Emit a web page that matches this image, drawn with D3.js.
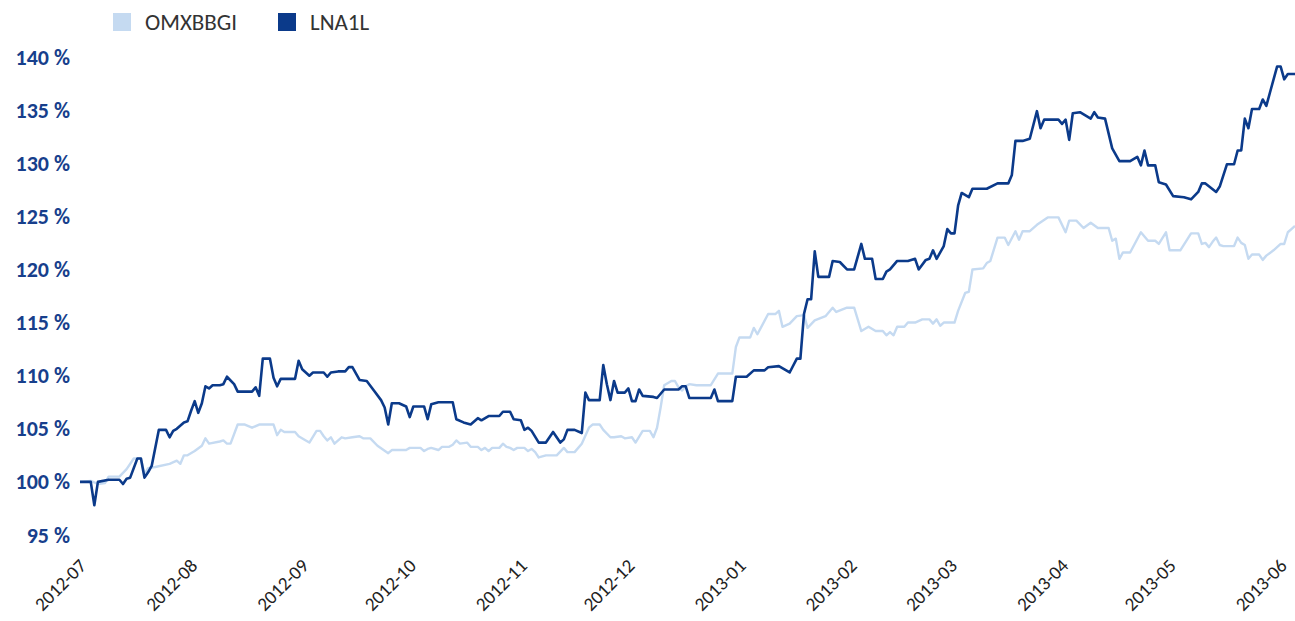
<!DOCTYPE html>
<html>
<head>
<meta charset="utf-8">
<script src="https://cdnjs.cloudflare.com/ajax/libs/d3/7.8.5/d3.min.js"></script>
<style>
    body { margin: 0; background: #fff; }
    #chart { width: 1295px; height: 621px; }
    .y-axis text { font-family: Carlito, Lato, sans-serif; font-size: 22px; font-weight: bold; fill: #173f8c; }
    .x-axis text { font-family: Carlito, Lato, sans-serif; font-size: 19px; fill: #222; }
    .legendText { font-family: Carlito, Lato, sans-serif; font-size: 23px; fill: #333; }
</style>
</head>
<body>
<div id="chart"></div>
<script>

// series names (legend order)
const seriesNames = ["OMXBBGI", "LNA1L"];
const seriesColours = ["#c5daf1", "#0b3a8a"];

// y ticks (percent) and x month ticks
const yTicks = [95, 100, 105, 110, 115, 120, 125, 130, 135, 140];
const monthTicks = ["2012-07", "2012-08", "2012-09", "2012-10", "2012-11", "2012-12",
    "2013-01", "2013-02", "2013-03", "2013-04", "2013-05", "2013-06"];

// OMXBBGI index, rebased to 100 %
const omxData = [
    ["2012-07-01",100.0],["2012-07-04",100.1],["2012-07-06",99.8],["2012-07-08",99.9],["2012-07-09",100.5],
    ["2012-07-12",100.5],["2012-07-14",101.2],["2012-07-16",102.2],["2012-07-18",102.2],["2012-07-19",100.7],
    ["2012-07-20",101.3],["2012-07-22",101.4],["2012-07-26",101.7],["2012-07-28",102.0],["2012-07-29",101.7],
    ["2012-07-30",102.5],["2012-07-31",102.5],["2012-08-02",102.9],["2012-08-04",103.4],["2012-08-05",104.1],
    ["2012-08-06",103.6],["2012-08-09",103.8],["2012-08-10",103.9],["2012-08-11",103.6],["2012-08-12",103.6],
    ["2012-08-14",105.4],["2012-08-16",105.4],["2012-08-18",105.1],["2012-08-20",105.4],["2012-08-24",105.4],
    ["2012-08-25",104.4],["2012-08-26",104.9],["2012-08-27",104.7],["2012-08-30",104.7],["2012-08-31",104.3],
    ["2012-09-02",103.9],["2012-09-03",103.7],["2012-09-05",104.8],["2012-09-06",104.8],["2012-09-07",104.3],
    ["2012-09-08",103.9],["2012-09-09",104.2],["2012-09-10",103.6],["2012-09-12",104.2],["2012-09-13",104.1],
    ["2012-09-15",104.2],["2012-09-17",104.3],["2012-09-18",104.1],["2012-09-20",104.1],["2012-09-22",103.4],
    ["2012-09-25",102.7],["2012-09-26",103.0],["2012-09-30",103.0],["2012-10-01",103.2],["2012-10-04",103.2],
    ["2012-10-05",102.9],["2012-10-06",103.1],["2012-10-07",103.2],["2012-10-09",103.0],["2012-10-10",103.3],
    ["2012-10-12",103.3],["2012-10-13",103.5],["2012-10-14",103.9],["2012-10-15",103.6],["2012-10-17",103.7],
    ["2012-10-18",103.3],["2012-10-20",103.3],["2012-10-21",103.0],["2012-10-22",103.2],["2012-10-23",102.9],
    ["2012-10-24",103.2],["2012-10-26",103.2],["2012-10-27",103.6],["2012-10-28",103.3],["2012-10-29",103.2],
    ["2012-10-30",103.0],["2012-10-31",103.2],["2012-11-02",103.2],["2012-11-03",102.9],["2012-11-04",103.1],
    ["2012-11-05",102.8],["2012-11-06",102.3],["2012-11-08",102.5],["2012-11-11",102.5],["2012-11-13",103.2],
    ["2012-11-14",102.8],["2012-11-16",102.8],["2012-11-18",103.6],["2012-11-20",105.1],["2012-11-21",105.4],
    ["2012-11-23",105.4],["2012-11-24",104.9],["2012-11-26",104.2],["2012-11-27",104.2],["2012-11-29",104.3],
    ["2012-11-30",104.1],["2012-12-02",104.2],["2012-12-03",103.7],["2012-12-05",104.8],["2012-12-07",104.8],
    ["2012-12-08",104.2],["2012-12-09",105.1],["2012-12-10",107.0],["2012-12-11",109.1],["2012-12-13",109.5],
    ["2012-12-14",109.5],["2012-12-15",108.9],["2012-12-16",108.6],["2012-12-17",109.0],["2012-12-18",109.2],
    ["2012-12-20",109.1],["2012-12-24",109.1],["2012-12-26",110.2],["2012-12-30",110.2],["2012-12-31",112.7],
    ["2013-01-01",113.6],["2013-01-04",113.6],["2013-01-05",114.5],["2013-01-06",113.9],["2013-01-09",115.8],
    ["2013-01-11",115.8],["2013-01-12",116.1],["2013-01-13",114.6],["2013-01-15",114.9],["2013-01-17",115.6],
    ["2013-01-19",115.7],["2013-01-20",114.5],["2013-01-22",115.2],["2013-01-25",115.6],["2013-01-27",116.4],
    ["2013-01-28",116.0],["2013-01-31",116.4],["2013-02-02",116.4],["2013-02-03",115.3],["2013-02-04",114.2],
    ["2013-02-06",114.6],["2013-02-08",114.2],["2013-02-10",114.2],["2013-02-11",113.8],["2013-02-12",114.1],
    ["2013-02-13",113.8],["2013-02-14",114.6],["2013-02-16",114.6],["2013-02-17",115.0],["2013-02-19",115.0],
    ["2013-02-21",115.3],["2013-02-23",115.3],["2013-02-24",114.9],["2013-02-25",115.3],["2013-02-26",114.7],
    ["2013-02-27",115.0],["2013-03-02",115.0],["2013-03-03",116.1],["2013-03-05",117.8],["2013-03-06",117.9],
    ["2013-03-07",120.0],["2013-03-10",120.1],["2013-03-11",120.6],["2013-03-12",120.8],["2013-03-14",123.0],
    ["2013-03-16",123.0],["2013-03-17",122.3],["2013-03-19",123.6],["2013-03-20",122.8],["2013-03-21",123.6],
    ["2013-03-23",123.6],["2013-03-25",124.2],["2013-03-28",124.9],["2013-03-31",124.9],["2013-04-02",123.5],
    ["2013-04-03",124.6],["2013-04-05",124.6],["2013-04-07",123.9],["2013-04-09",124.4],["2013-04-11",123.9],
    ["2013-04-14",123.9],["2013-04-15",122.7],["2013-04-16",122.9],["2013-04-17",121.0],["2013-04-18",121.6],
    ["2013-04-20",121.6],["2013-04-23",123.5],["2013-04-25",122.7],["2013-04-27",122.7],["2013-04-28",122.4],
    ["2013-04-30",123.5],["2013-05-01",121.8],["2013-05-04",121.8],["2013-05-07",123.4],["2013-05-09",123.4],
    ["2013-05-10",122.4],["2013-05-11",122.5],["2013-05-12",122.1],["2013-05-13",122.6],["2013-05-14",123.0],
    ["2013-05-15",122.3],["2013-05-16",122.2],["2013-05-19",122.2],["2013-05-20",123.0],["2013-05-21",122.5],
    ["2013-05-22",122.3],["2013-05-23",121.0],["2013-05-24",121.4],["2013-05-26",121.4],["2013-05-27",120.9],
    ["2013-05-28",121.3],["2013-05-30",121.8],["2013-06-01",122.4],["2013-06-02",122.4],["2013-06-03",123.5],
    ["2013-06-04",123.8],["2013-06-05",124.1]
];

// LNA1L share, rebased to 100 %
const lnaData = [
    ["2012-07-01",100.0],["2012-07-04",100.0],["2012-07-05",97.8],["2012-07-06",100.0],["2012-07-09",100.2],
    ["2012-07-12",100.2],["2012-07-13",99.8],["2012-07-14",100.3],["2012-07-15",100.4],["2012-07-17",102.2],
    ["2012-07-18",102.2],["2012-07-19",100.4],["2012-07-20",100.9],["2012-07-21",101.5],["2012-07-23",104.9],
    ["2012-07-25",104.9],["2012-07-26",104.2],["2012-07-27",104.8],["2012-07-28",105.0],["2012-07-30",105.6],
    ["2012-07-31",105.7],["2012-08-01",106.7],["2012-08-02",107.6],["2012-08-03",106.5],["2012-08-04",107.4],
    ["2012-08-05",109.0],["2012-08-06",108.8],["2012-08-07",109.1],["2012-08-09",109.1],["2012-08-10",109.2],
    ["2012-08-11",109.9],["2012-08-13",109.2],["2012-08-14",108.5],["2012-08-18",108.5],["2012-08-19",108.9],
    ["2012-08-20",108.1],["2012-08-21",111.6],["2012-08-23",111.6],["2012-08-24",109.8],["2012-08-25",109.0],
    ["2012-08-26",109.7],["2012-08-30",109.7],["2012-08-31",111.4],["2012-09-01",110.6],["2012-09-03",110.0],
    ["2012-09-04",110.3],["2012-09-07",110.3],["2012-09-08",109.9],["2012-09-09",110.3],["2012-09-11",110.4],
    ["2012-09-13",110.4],["2012-09-14",110.8],["2012-09-15",110.8],["2012-09-17",109.6],["2012-09-19",109.5],
    ["2012-09-21",108.6],["2012-09-23",107.7],["2012-09-24",107.0],["2012-09-25",105.4],["2012-09-26",107.4],
    ["2012-09-28",107.4],["2012-09-30",107.1],["2012-10-01",106.1],["2012-10-02",107.1],["2012-10-05",107.1],
    ["2012-10-06",105.9],["2012-10-07",107.3],["2012-10-09",107.5],["2012-10-13",107.5],["2012-10-14",105.9],
    ["2012-10-16",105.6],["2012-10-18",105.4],["2012-10-20",106.0],["2012-10-21",105.8],["2012-10-23",106.2],
    ["2012-10-26",106.2],["2012-10-27",106.6],["2012-10-29",106.6],["2012-10-30",105.9],["2012-11-01",105.8],
    ["2012-11-02",104.9],["2012-11-03",105.1],["2012-11-04",104.8],["2012-11-06",103.7],["2012-11-08",103.7],
    ["2012-11-10",104.7],["2012-11-12",103.7],["2012-11-13",104.0],["2012-11-14",104.9],["2012-11-16",104.9],
    ["2012-11-18",104.6],["2012-11-19",108.4],["2012-11-20",107.7],["2012-11-23",107.7],["2012-11-24",111.0],
    ["2012-11-25",109.2],["2012-11-26",107.7],["2012-11-27",109.5],["2012-11-28",108.4],["2012-11-30",108.4],
    ["2012-12-01",108.8],["2012-12-02",107.6],["2012-12-03",107.6],["2012-12-04",108.7],["2012-12-05",108.1],
    ["2012-12-08",108.0],["2012-12-09",107.9],["2012-12-11",108.7],["2012-12-15",108.7],["2012-12-16",109.0],
    ["2012-12-17",109.0],["2012-12-18",107.9],["2012-12-24",107.9],["2012-12-25",108.7],["2012-12-26",107.6],
    ["2012-12-30",107.6],["2012-12-31",109.9],["2013-01-03",109.9],["2013-01-05",110.5],["2013-01-08",110.5],
    ["2013-01-09",110.8],["2013-01-12",110.9],["2013-01-15",110.3],["2013-01-17",111.6],["2013-01-18",111.6],
    ["2013-01-19",115.8],["2013-01-20",117.2],["2013-01-21",117.2],["2013-01-22",121.7],["2013-01-23",119.3],
    ["2013-01-26",119.3],["2013-01-27",120.8],["2013-01-29",120.7],["2013-01-31",120.0],["2013-02-02",120.0],
    ["2013-02-03",121.2],["2013-02-04",122.4],["2013-02-05",121.0],["2013-02-07",121.0],["2013-02-08",119.1],
    ["2013-02-10",119.1],["2013-02-11",119.8],["2013-02-12",120.0],["2013-02-14",120.8],["2013-02-17",120.8],
    ["2013-02-19",121.0],["2013-02-20",120.0],["2013-02-22",120.9],["2013-02-23",121.0],["2013-02-24",121.8],
    ["2013-02-25",121.0],["2013-02-27",122.2],["2013-02-28",123.8],["2013-03-01",123.4],["2013-03-02",123.4],
    ["2013-03-03",126.0],["2013-03-04",127.2],["2013-03-06",126.8],["2013-03-07",127.6],["2013-03-11",127.6],
    ["2013-03-14",128.1],["2013-03-17",128.1],["2013-03-18",128.9],["2013-03-19",132.1],["2013-03-21",132.1],
    ["2013-03-23",132.3],["2013-03-25",134.9],["2013-03-26",133.3],["2013-03-27",134.1],["2013-03-31",134.1],
    ["2013-04-01",133.7],["2013-04-02",134.1],["2013-04-03",132.2],["2013-04-04",134.7],["2013-04-06",134.8],
    ["2013-04-09",134.2],["2013-04-10",134.8],["2013-04-11",134.3],["2013-04-13",134.2],["2013-04-15",131.4],
    ["2013-04-17",130.2],["2013-04-20",130.2],["2013-04-22",130.6],["2013-04-23",129.8],["2013-04-24",131.2],
    ["2013-04-25",129.8],["2013-04-27",129.8],["2013-04-28",128.2],["2013-04-30",128.0],["2013-05-02",126.9],
    ["2013-05-05",126.8],["2013-05-07",126.6],["2013-05-09",127.3],["2013-05-10",128.1],["2013-05-11",128.1],
    ["2013-05-14",127.3],["2013-05-15",127.8],["2013-05-17",129.9],["2013-05-19",129.9],["2013-05-20",131.2],
    ["2013-05-21",131.2],["2013-05-22",134.2],["2013-05-23",133.3],["2013-05-24",135.1],["2013-05-26",135.1],
    ["2013-05-27",136.0],["2013-05-28",135.4],["2013-05-31",139.1],["2013-06-01",139.1],["2013-06-02",137.9],
    ["2013-06-03",138.4],["2013-06-05",138.4]
];

class IndexLineChart{

    constructor (_element, _series){
        this.element = _element;
        this.series = _series;
        this.init();
    }

    init(){
        let dv = this;

        dv.margin = { top: 57, right: 0, bottom: 86, left: 80 };
        dv.width = 1295 - dv.margin.left - dv.margin.right;
        dv.height = 621 - dv.margin.top - dv.margin.bottom;

        const svg = d3.select(dv.element)
            .append("svg")
            .attr("width", dv.width + dv.margin.left + dv.margin.right)
            .attr("height", dv.height + dv.margin.top + dv.margin.bottom);

        dv.svg = svg;
        dv.g = svg.append("g")
            .attr("transform", "translate(" + dv.margin.left + "," + dv.margin.top + ")");

        dv.parseDate = d3.timeParse("%Y-%m-%d");
        dv.parseMonth = d3.timeParse("%Y-%m");

        let allDates = [];
        dv.series.forEach(s => { s.values.forEach(d => allDates.push(dv.parseDate(d[0]))); });

        dv.x = d3.scaleTime()
            .domain(d3.extent(allDates))
            .range([0, dv.width]);

        // 95 % sits at the bottom of the plot, 140 % at the top
        dv.y = d3.scaleLinear()
            .domain([d3.min(yTicks), d3.max(yTicks)])
            .range([dv.height, 0]);

        dv.update();
    }

    update(){
        let dv = this;

        // y axis - labels only
        let yAxisCall = d3.axisLeft(dv.y)
            .tickValues(yTicks)
            .tickSize(0)
            .tickPadding(0)
            .tickFormat(d => d + " %");

        dv.g.append("g")
            .attr("class", "y-axis")
            .attr("transform", "translate(-10,0)")
            .call(yAxisCall)
            .call(g => g.select(".domain").remove());

        // x axis - rotated month labels
        let xAxisCall = d3.axisBottom(dv.x)
            .tickValues(monthTicks.map(m => dv.parseMonth(m)))
            .tickSize(0)
            .tickFormat(d3.timeFormat("%Y-%m"));

        dv.g.append("g")
            .attr("class", "x-axis")
            .attr("transform", "translate(0," + dv.height + ")")
            .call(xAxisCall)
            .call(g => g.select(".domain").remove())
            .selectAll("text")
            .attr("x", 0)
            .attr("y", 0)
            .attr("dy", 0)
            .attr("text-anchor", "end")
            .attr("transform", "translate(7,32) rotate(-45)");

        let line = d3.line()
            .x(d => dv.x(dv.parseDate(d[0])))
            .y(d => dv.y(d[1]));

        dv.g.selectAll(".series")
            .data(dv.series)
            .enter()
            .append("path")
            .attr("class", "series")
            .attr("fill", "none")
            .attr("stroke", d => d.colour)
            .attr("stroke-width", d => d.width)
            .attr("stroke-linejoin", "round")
            .attr("d", d => line(d.values));

        dv.addLegend();
    }

    addLegend(){
        let dv = this;

        let legend = dv.svg.append("g")
            .attr("transform", "translate(113,13)");

        let legends = legend.selectAll(".legend")
            .data(dv.series)
            .enter()
            .append("g")
            .attr("class", "legend")
            .attr("transform", (d, i) => "translate(" + i * 165 + ",0)");

        legends.append("rect")
            .attr("width", 18)
            .attr("height", 18)
            .attr("fill", d => d.colour);

        legends.append("text")
            .attr("class", "legendText")
            .attr("x", 32)
            .attr("y", 9)
            .attr("dy", ".35em")
            .text(d => d.name);
    }
}

new IndexLineChart("#chart", [
    { name: seriesNames[0], colour: seriesColours[0], width: 2.4, values: omxData },
    { name: seriesNames[1], colour: seriesColours[1], width: 2.6, values: lnaData }
]);

</script>
</body>
</html>
